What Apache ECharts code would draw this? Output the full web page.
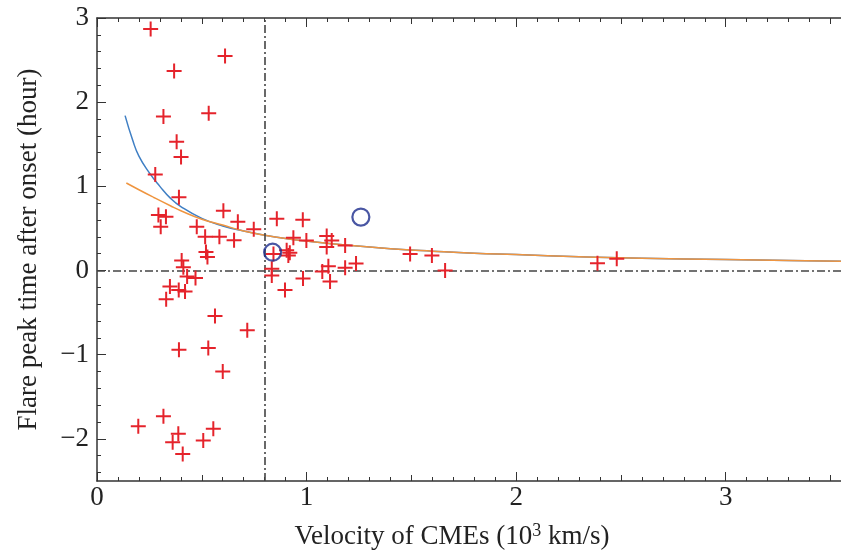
<!DOCTYPE html>
<html><head><meta charset="utf-8">
<script src="https://cdn.jsdelivr.net/npm/echarts@6/dist/echarts.min.js"></script>
<style>html,body{margin:0;padding:0;background:#fff}#c{width:841px;height:556px}</style>
</head><body><div id="c"></div>
<script>
// Flare data: CME velocity (10^3 km/s) vs flare peak time after onset (hour)
const flareX = [0.256,0.611,0.368,0.317,0.533,0.380,0.401,0.278,0.391,0.293,0.329,0.304,0.603,0.672,0.748,0.476,0.516,0.584,0.654,0.520,0.527,0.404,0.412,0.430,0.470,0.348,0.390,0.420,0.330,0.563,0.717,0.391,0.531,0.600,0.317,0.197,0.388,0.361,0.555,0.507,0.409,
  0.858,0.982,0.937,0.999,1.096,1.120,1.096,1.184,0.842,0.905,0.913,0.920,0.834,0.834,0.897,0.983,1.075,1.104,1.112,1.184,1.236,1.494,1.598,1.661,2.388,2.480];
const flareY = [2.87,2.55,2.37,1.83,1.87,1.53,1.35,1.14,0.87,0.66,0.64,0.52,0.71,0.58,0.49,0.52,0.40,0.40,0.36,0.22,0.16,0.12,0.04,-0.07,-0.09,-0.19,-0.23,-0.25,-0.34,-0.54,-0.71,-0.94,-0.92,-1.20,-1.73,-1.85,-1.94,-2.04,-1.88,-2.02,-2.18,
  0.615,0.603,0.39,0.357,0.41,0.357,0.28,0.298,0.198,0.24,0.18,0.21,0.02,-0.06,-0.23,-0.095,-0.01,0.05,-0.13,0.032,0.085,0.198,0.179,0.0,0.087,0.139];
const circleX = [0.838,1.259];
const circleY = [0.218,0.635];
const blueX = [0.134,0.17,0.2,0.25,0.3,0.35,0.4,0.5,0.6,0.7,0.8,0.9,1.0,1.2,1.4,1.6,1.8,2.0,2.3,2.6,3.0,3.3,3.55];
const blueY = [1.84,1.55,1.36,1.16,1.0,0.86,0.76,0.62,0.53,0.47,0.42,0.38,0.35,0.30,0.26,0.23,0.205,0.19,0.165,0.145,0.13,0.12,0.11];
const orangeX = [0.14,0.2,0.27,0.35,0.4,0.5,0.6,0.7,0.8,0.9,1.0,1.2,1.4,1.6,1.8,2.0,2.3,2.6,3.0,3.3,3.55];
const orangeY = [1.04,0.96,0.87,0.77,0.71,0.61,0.54,0.47,0.42,0.38,0.35,0.30,0.26,0.23,0.205,0.19,0.165,0.145,0.13,0.12,0.11];
const xTickLabels = [0,1,2,3];
const yTickLabels = [-2,-1,0,1,2,3];
const yMinorTicks = [-2.4,-2.2,-1.8,-1.6,-1.4,-1.2,-0.8,-0.6,-0.4,-0.2,0.2,0.4,0.6,0.8,1.2,1.4,1.6,1.8,2.2,2.4,2.6,2.8];
const xHalfTicks = [0.5,1.5,2.5,3.5];
const thresholdX = 0.8;
const thresholdY = 0;

const zip = (a,b)=>a.map((v,i)=>[v,b[i]]);
const plusPath = 'path://M6.5,0H8.5V6.5H15V8.5H8.5V15H6.5V8.5H0V6.5H6.5Z';
const font = 'Liberation Serif';
const axisCol = '#333';
const XMIN = 0, XMAX = 3.55, YMIN = -2.5, YMAX = 3;

const chart = echarts.init(document.getElementById('c'), null, {renderer:'canvas'});
const baseX = {type:'value', min:XMIN, max:XMAX, splitLine:{show:false}};
const baseY = {type:'value', min:YMIN, max:YMAX, splitLine:{show:false}};
const line = {show:true, onZero:false, lineStyle:{color:axisCol, width:1.5}};
const noLine = {show:false, onZero:false};
chart.setOption({
  animation:false,
  backgroundColor:'#fff',
  grid:{left:97, top:18, right:0, bottom:75, containLabel:false, outerBoundsMode:'none'},
  xAxis:[
    Object.assign({}, baseX, {position:'bottom', interval:1, axisLine:line,
      axisTick:{show:true, inside:true, length:9, lineStyle:{color:axisCol}},
      minorTick:{show:true, splitNumber:10, length:4, lineStyle:{color:axisCol}},
      axisLabel:{show:true, fontFamily:font, fontSize:27, color:'#222', margin:3,
        customValues:xTickLabels, formatter:v=>String(v)},
      name:'Velocity of CMEs (10{sup|3} km/s)', nameLocation:'middle', nameGap:41,
      nameTextStyle:{fontFamily:font, fontSize:27, color:'#222', padding:[0,34,0,0],
        rich:{sup:{fontFamily:font, fontSize:18, color:'#222', verticalAlign:'top', padding:[0,0,12,0]}}}
    }),
    Object.assign({}, baseX, {position:'top', interval:1, axisLine:line,
      axisTick:{show:true, inside:true, length:9, lineStyle:{color:axisCol}},
      minorTick:{show:true, splitNumber:10, length:4, lineStyle:{color:axisCol}},
      axisLabel:{show:false}}),
    Object.assign({}, baseX, {position:'bottom', axisLine:noLine,
      axisTick:{show:true, inside:true, length:6, customValues:xHalfTicks, lineStyle:{color:axisCol}},
      axisLabel:{show:false}}),
    Object.assign({}, baseX, {position:'top', axisLine:noLine,
      axisTick:{show:true, inside:true, length:6, customValues:xHalfTicks, lineStyle:{color:axisCol}},
      axisLabel:{show:false}})
  ],
  yAxis:[
    Object.assign({}, baseY, {position:'left', axisLine:line,
      axisTick:{show:true, inside:true, length:9, customValues:yTickLabels, lineStyle:{color:axisCol}},
      axisLabel:{show:true, fontFamily:font, fontSize:27, color:'#222', margin:8,
        customValues:yTickLabels, formatter:v=>String(v).replace('-','\u2212')},
      name:'Flare peak time after onset (hour)', nameLocation:'middle', nameGap:55,
      nameTextStyle:{fontFamily:font, fontSize:27, color:'#222'}
    }),
    Object.assign({}, baseY, {position:'left', offset:0, axisLine:noLine,
      axisTick:{show:true, inside:true, length:4, customValues:yMinorTicks, lineStyle:{color:axisCol}},
      axisLabel:{show:false}})
  ],
  series:[
    {type:'line', name:'blue fit', data:zip(blueX,blueY), showSymbol:false, smooth:true,
      lineStyle:{color:'#3f7fc4', width:1.5}, z:3,
      markLine:{silent:true, symbol:'none', label:{show:false},
        lineStyle:{color:'#444', width:1.6, type:[8,3,2,3]},
        data:[{xAxis:thresholdX},{yAxis:thresholdY}]}},
    {type:'line', name:'orange fit', data:zip(orangeX,orangeY), showSymbol:false, smooth:true,
      lineStyle:{color:'#ef9540', width:1.5}, z:4},
    {type:'scatter', name:'events', data:zip(flareX,flareY), symbol:plusPath, symbolSize:15,
      itemStyle:{color:'#e5232b', opacity:1}, z:5},
    {type:'scatter', name:'special', data:zip(circleX,circleY), symbol:'circle', symbolSize:17,
      itemStyle:{color:'rgba(0,0,0,0)', borderColor:'#1c2c8c', borderWidth:2.2}, z:6}
  ]
});
</script></body></html>
